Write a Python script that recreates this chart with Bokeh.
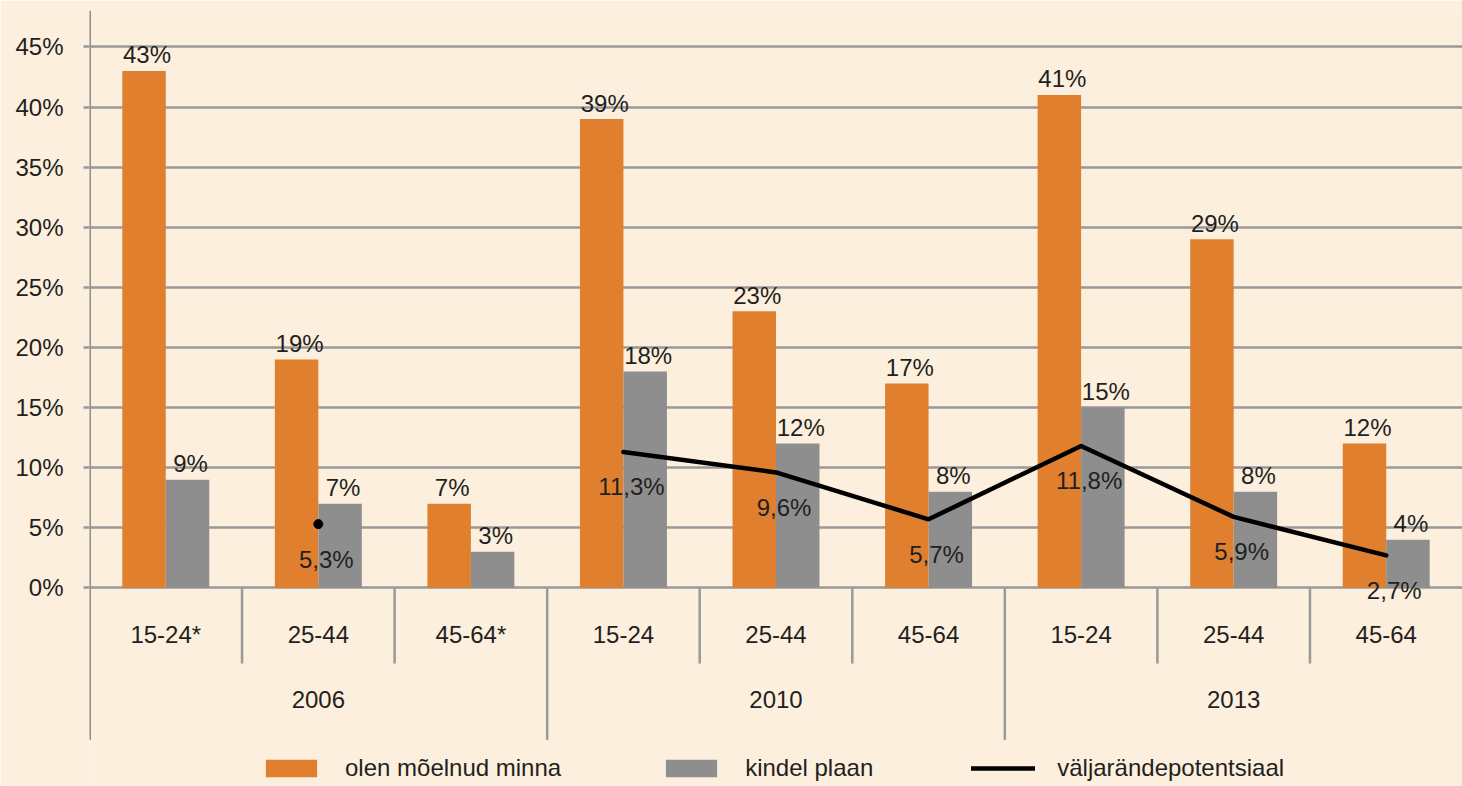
import math
import numpy as np
from bokeh.plotting import figure
from bokeh.models import (FactorRange, ColumnDataSource, FixedTicker, PrintfTickFormatter,
                          Legend, LegendItem, Range1d)
from bokeh.transform import dodge
from bokeh.core.properties import value
from bokeh.embed import file_html
from bokeh.resources import INLINE

# ---------------- data ----------------
years = ["2006", "2010", "2013"]
age_groups = [["15-24*", "25-44", "45-64*"],
              ["15-24", "25-44", "45-64"],
              ["15-24", "25-44", "45-64"]]
thought_of_leaving = [43, 19, 7, 39, 23, 17, 41, 29, 12]      # olen mõelnud minna
firm_plan = [9, 7, 3, 18, 12, 8, 15, 8, 4]                     # kindel plaan
emigration_potential = [math.nan, 5.3, math.nan, 11.3, 9.6, 5.7, 11.8, 5.9, 2.7]
y_ticks = [0, 5, 10, 15, 20, 25, 30, 35, 40, 45]
series_names = ["olen mõelnud minna", "kindel plaan", "väljarändepotentsiaal"]

# ---------------- styles ----------------
BG = "#FCEFDE"
ORANGE = "#E0802E"
GRAY = "#8E8E8E"
GRID = "#999999"
TXT = "#231F20"
FONT = "Liberation Sans"
FS = "24px"
BAR_W = 0.285

factors = [(y, a) for y, ages in zip(years, age_groups) for a in ages]

src = ColumnDataSource(dict(
    x=factors,
    thought=thought_of_leaving,
    plan=firm_plan,
    pot=np.array(emigration_potential, dtype=float),
    tl=[f"{v}%" for v in thought_of_leaving],
    pl=[f"{v}%" for v in firm_plan],
))

pot_idx = [i for i, v in enumerate(emigration_potential) if not math.isnan(v)]
pot_src = ColumnDataSource(dict(
    x=[factors[i] for i in pot_idx],
    y=[emigration_potential[i] for i in pot_idx],
    t=[f"{emigration_potential[i]:.1f}".replace(".", ",") + "%" for i in pot_idx],
))


def isolated(i):
    left = i == 0 or math.isnan(emigration_potential[i - 1])
    right = i == len(emigration_potential) - 1 or math.isnan(emigration_potential[i + 1])
    return left and right


iso_idx = [i for i in pot_idx if isolated(i)]
iso_src = ColumnDataSource(dict(x=[factors[i] for i in iso_idx],
                                y=[emigration_potential[i] for i in iso_idx]))

Y_TOP = 48.03
Y_BOT = -16.53     # frame reaches the bottom of the picture (legend lives inside)
AXIS_BOT = -12.65  # where the vertical axis line / group separators end
SEP_SHORT = -6.3

p = figure(x_range=FactorRange(*factors, factor_padding=0, group_padding=0,
                               subgroup_padding=0, range_padding=0),
           y_range=Range1d(Y_BOT, Y_TOP),
           width=1462, height=786, output_backend="svg", toolbar_location=None,
           x_axis_location=None, min_border_left=89, min_border_right=0,
           min_border_top=10, min_border_bottom=0)

p.background_fill_color = BG
p.border_fill_color = BG
p.outline_line_color = None

p.xgrid.visible = False
p.ygrid.ticker = FixedTicker(ticks=y_ticks)
p.ygrid.grid_line_color = GRID
p.ygrid.grid_line_width = 2.5

ax = p.yaxis[0]
ax.ticker = FixedTicker(ticks=y_ticks)
ax.formatter = PrintfTickFormatter(format="%d%%")
ax.axis_line_color = None
ax.major_tick_line_color = GRID
ax.major_tick_line_width = 2.5
ax.major_tick_out = 6
ax.major_tick_in = 0
ax.minor_tick_line_color = None
ax.major_label_standoff = 20
ax.major_label_text_font = FONT
ax.major_label_text_font_size = FS
ax.major_label_text_color = TXT

# vertical axis line (ends above the legend)
axis_src = ColumnDataSource(dict(x=[factors[0]]))
p.segment(x0=dodge("x", -0.5, range=p.x_range), y0=Y_TOP, x1=dodge("x", -0.5, range=p.x_range),
          y1=AXIS_BOT, source=axis_src, line_color="#8C8C8C", line_width=3)

# separators in category area
sep_short = [factors[i] for i in range(1, len(factors)) if factors[i][0] == factors[i - 1][0]]
sep_long = [factors[i] for i in range(1, len(factors)) if factors[i][0] != factors[i - 1][0]]
ss = ColumnDataSource(dict(x=sep_short))
sl = ColumnDataSource(dict(x=sep_long))
p.segment(x0=dodge("x", -0.5, range=p.x_range), y0=0, x1=dodge("x", -0.5, range=p.x_range),
          y1=SEP_SHORT, source=ss, line_color=GRID, line_width=2.5)
p.segment(x0=dodge("x", -0.5, range=p.x_range), y0=0, x1=dodge("x", -0.5, range=p.x_range),
          y1=AXIS_BOT, source=sl, line_color=GRID, line_width=2.5)

# bars
r1 = p.vbar(x=dodge("x", -BAR_W / 2, range=p.x_range), top="thought", width=BAR_W,
            source=src, fill_color=ORANGE, line_color=None)
r2 = p.vbar(x=dodge("x", BAR_W / 2, range=p.x_range), top="plan", width=BAR_W,
            source=src, fill_color=GRAY, line_color=None)

# potential line
r3 = p.line(x="x", y="pot", source=src, line_color="black", line_width=4.5,
            line_join="round", line_cap="round")
p.scatter(x="x", y="y", source=iso_src, size=9, fill_color="black", line_color="black")

# bar labels
common = dict(text_font=value(FONT), text_font_size=FS, text_color=TXT, text_align="center")
p.text(x=dodge("x", -BAR_W / 2, range=p.x_range), y="thought", text="tl", source=src,
       text_baseline="alphabetic", x_offset=3, y_offset=-16, **common)
p.text(x=dodge("x", BAR_W / 2, range=p.x_range), y="plan", text="pl", source=src,
       text_baseline="alphabetic", x_offset=3, y_offset=-16, **common)
# line labels
p.text(x="x", y="y", text="t", source=pot_src, text_baseline="alphabetic",
       x_offset=8, y_offset=35, **common)

# category labels
cat_src = ColumnDataSource(dict(x=factors, y=[0] * len(factors), t=[f[1] for f in factors]))
p.text(x="x", y="y", text="t", source=cat_src, text_baseline="middle", y_offset=47, **common)
year_src = ColumnDataSource(dict(x=[(y, ages[1]) for y, ages in zip(years, age_groups)],
                                 y=[0] * len(years), t=years))
p.text(x="x", y="y", text="t", source=year_src, text_baseline="middle", y_offset=112, **common)

legend = Legend(items=[LegendItem(label=series_names[0], renderers=[r1]),
                       LegendItem(label=series_names[1], renderers=[r2]),
                       LegendItem(label=series_names[2], renderers=[r3])],
                orientation="horizontal", location=(170, 4),
                glyph_width=64, glyph_height=22, label_standoff=22, spacing=98,
                padding=0, margin=0, border_line_color=None, background_fill_alpha=0,
                label_text_font=FONT, label_text_font_size=FS, label_text_color=TXT)
p.add_layout(legend)

open("out.html", "w").write(file_html(p, INLINE))
